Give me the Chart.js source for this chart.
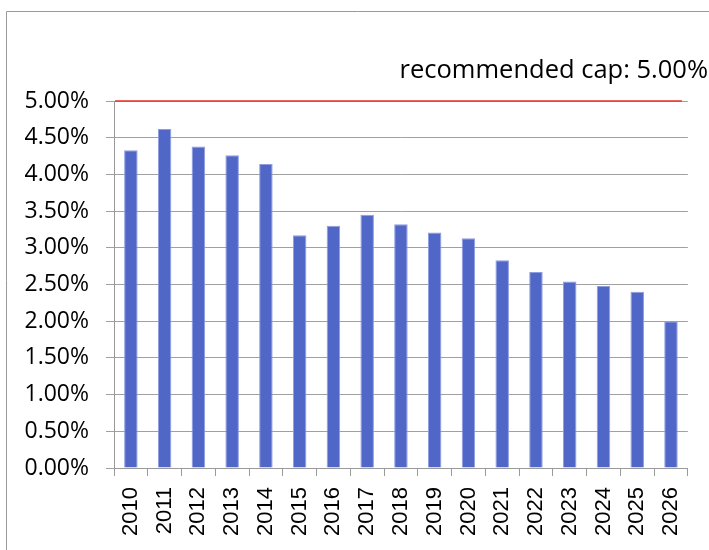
<!DOCTYPE html>
<html>
<head>
<meta charset="utf-8">
<script src="https://cdn.jsdelivr.net/npm/chart.js@4.4.1/dist/chart.umd.min.js"></script>
<style>
  html, body { margin: 0; padding: 0; background: #ffffff; }
  #wrap { position: relative; width: 709px; height: 550px; }
</style>
</head>
<body>
<div id="wrap"><canvas id="c" width="709" height="550"></canvas></div>
<script>
// ---- data ----
const years = ['2010','2011','2012','2013','2014','2015','2016','2017','2018','2019','2020','2021','2022','2023','2024','2025','2026'];
const rates = [4.33, 4.62, 4.38, 4.26, 4.14, 3.17, 3.30, 3.45, 3.32, 3.21, 3.13, 2.83, 2.67, 2.54, 2.48, 2.40, 2.00];
const capValue = 5.00;
const capLabel = 'recommended cap: 5.00%';
const yTickMin = 0, yTickMax = 5, yTickStep = 0.5;

const capPlugin = {
  id: 'capPlugin',
  beforeDraw(chart) {
    const ctx = chart.ctx;
    ctx.save();
    ctx.strokeStyle = '#9a9a9a';
    ctx.lineWidth = 1;
    ctx.beginPath();
    ctx.moveTo(6.5, 550);
    ctx.lineTo(6.5, 11.5);
    ctx.lineTo(709, 11.5);
    ctx.stroke();
    ctx.restore();
  },
  afterDatasetsDraw(chart) {
    const ctx = chart.ctx;
    const y = chart.scales.y.getPixelForValue(capValue);
    const a = chart.chartArea;
    ctx.save();
    ctx.strokeStyle = '#e8302a';
    ctx.lineWidth = 1.5;
    ctx.beginPath();
    ctx.moveTo(a.left + 1, y);
    ctx.lineTo(a.right - 6, y);
    ctx.stroke();
    ctx.fillStyle = '#000000';
    ctx.font = '25.5px "Open Sans"';
    ctx.textAlign = 'right';
    ctx.textBaseline = 'alphabetic';
    ctx.fillText(capLabel, 708, 78);
    ctx.restore();
  }
};

new Chart(document.getElementById('c'), {
  type: 'bar',
  data: {
    labels: years,
    datasets: [{
      data: rates,
      backgroundColor: '#5067c8',
      borderColor: '#8e9de0',
      borderWidth: 1,
      barPercentage: 0.4,
      categoryPercentage: 1.0
    }]
  },
  options: {
    responsive: false,
    animation: false,
    devicePixelRatio: 1,
    layout: { padding: { top: 101, right: 21, left: 0, bottom: 0 } },
    plugins: { legend: { display: false }, tooltip: { enabled: false }, title: { display: false } },
    scales: {
      x: {
        afterFit(s) { s.height = 82; },
        grid: { drawOnChartArea: false, drawTicks: true, tickLength: 8, color: '#9a9a9a', offset: true },
        border: { color: '#9a9a9a', width: 1 },
        ticks: {
          color: '#000000',
          font: { family: '"Liberation Sans"', size: 22 },
          minRotation: 90, maxRotation: 90,
          autoSkip: false,
          padding: 11
        }
      },
      y: {
        min: yTickMin, max: yTickMax,
        afterFit(s) { s.width = 114; },
        grid: { color: '#a0a0a0', lineWidth: 1, drawTicks: true, tickLength: 8 },
        border: { color: '#9a9a9a', width: 1 },
        ticks: {
          stepSize: yTickStep,
          color: '#000000',
          font: { family: '"Open Sans"', size: 23 },
          padding: 17,
          callback: v => v.toFixed(2) + '%'
        }
      }
    }
  },
  plugins: [capPlugin]
});
</script>
</body>
</html>
